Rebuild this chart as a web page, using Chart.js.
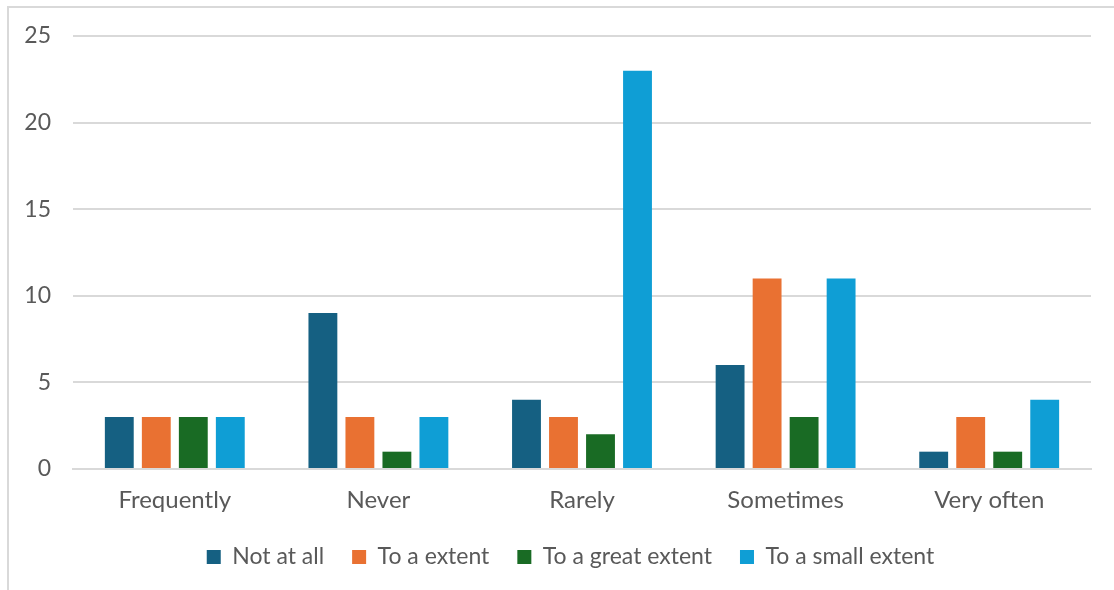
<!DOCTYPE html>
<html>
<head>
<meta charset="utf-8">
<script src="https://cdn.jsdelivr.net/npm/chart.js@4/dist/chart.umd.min.js"></script>
<style>
  html, body { margin: 0; padding: 0; background: #fff; }
  #wrap { position: relative; width: 1114px; height: 590px; overflow: hidden; }
  /* light frame of the original chart object (only left + top edges visible) */
  #frame { position: absolute; left: 7px; top: 6px; width: 1200px; height: 700px;
           border: 2px solid #d9d9d9; box-sizing: border-box; }
  canvas { position: absolute; left: 0; top: 0; }
</style>
</head>
<body>
<div id="wrap">
  <div id="frame"></div>
  <canvas id="c" width="1114" height="590"></canvas>
</div>
<script>
// ── Data ────────────────────────────────────────────────────────────────────
const categories = ['Frequently', 'Never', 'Rarely', 'Sometimes', 'Very often'];
const seriesNames = ['Not at all', 'To a extent', 'To a great extent', 'To a small extent'];
const notAtAll     = [3, 9, 4, 6, 1];
const toAExtent    = [3, 3, 3, 11, 3];
const toAGreat     = [3, 1, 2, 3, 1];
const toASmall     = [3, 3, 23, 11, 4];
const yTicks       = [0, 5, 10, 15, 20, 25];

// ── Office-style palette ────────────────────────────────────────────────────
const COLORS = ['#156082', '#E97132', '#196B24', '#0F9ED5'];
const TEXT = '#595959';
const GRID = '#d9d9d9';
const FAMILY = "Lato, 'Liberation Sans', sans-serif";

const values = [notAtAll, toAExtent, toAGreat, toASmall];

// legend sits a little right of the canvas centre in the original
const shiftLegend = {
  id: 'shiftLegend',
  afterLayout(chart) {
    const lg = chart.legend;
    if (!lg) return;
    lg.left += 25;
    lg.right += 25;
  },
};

new Chart(document.getElementById('c'), {
  type: 'bar',
  data: {
    labels: categories,
    datasets: values.map((data, i) => ({
      label: seriesNames[i],
      data,
      backgroundColor: COLORS[i],
      borderWidth: 0,
      categoryPercentage: 0.727,
      barPercentage: 0.78,
    })),
  },
  options: {
    responsive: false,
    animation: false,
    layout: { padding: { left: 0, right: 23, top: 36, bottom: 11.5 } },
    plugins: {
      tooltip: { enabled: false },
      legend: {
        position: 'bottom',
        labels: {
          color: TEXT,
          font: { family: FAMILY, size: 23 },
          boxWidth: 14,
          boxHeight: 14,
          padding: 28,
        },
      },
    },
    scales: {
      x: {
        grid: { display: false, drawTicks: false },
        border: { display: true, color: GRID, width: 2 },
        ticks: { color: TEXT, font: { family: FAMILY, size: 24 }, padding: 17 },
        afterFit: s => { s.height = 48.5; },
      },
      y: {
        min: 0,
        max: 25,
        afterBuildTicks: s => { s.ticks = yTicks.map(v => ({ value: v })); },
        grid: { color: GRID, lineWidth: 2, drawTicks: false },
        border: { display: false },
        ticks: { color: TEXT, font: { family: FAMILY, size: 23 }, padding: 22 },
        afterFit: s => { s.width = 73; },
      },
    },
  },
  plugins: [shiftLegend],
});
</script>
</body>
</html>
